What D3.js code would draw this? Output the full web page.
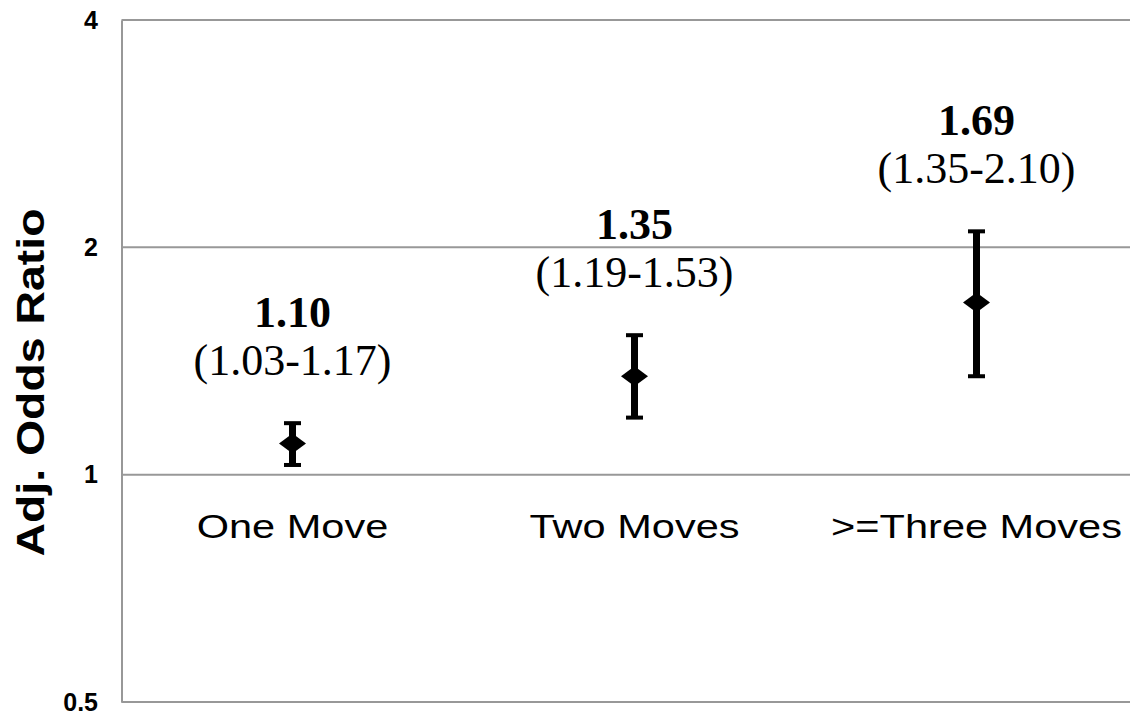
<!DOCTYPE html>
<html>
<head>
<meta charset="utf-8">
<script src="https://cdn.jsdelivr.net/npm/d3@7"></script>
<style>
  html, body { margin: 0; padding: 0; background: #fff; }
  svg { display: block; }
</style>
</head>
<body>
<svg id="chart" width="1130" height="712"></svg>
<script>
const categories = ["One Move", "Two Moves", ">=Three Moves"];
const oddsRatio = [1.10, 1.35, 1.69];
const ciLower = [1.03, 1.19, 1.35];
const ciUpper = [1.17, 1.53, 2.10];
const yTicks = [0.5, 1, 2, 4];
const yTitle = "Adj. Odds Ratio";

const W = 1130, H = 712;
const plotLeft = 121.5, plotTop = 20, plotBottom = 702;
const svg = d3.select("#chart");

const y = d3.scaleLog().base(2).domain([0.5, 4]).range([plotBottom, plotTop]);
const x = d3.scaleBand().domain(categories).range([plotLeft, plotLeft + 3 * 342]).padding(0);
const cx = c => x(c) + x.bandwidth() / 2;

const data = categories.map((c, i) => ({c, or: oddsRatio[i], lo: ciLower[i], hi: ciUpper[i]}));

// gridlines
svg.append("g").selectAll("line").data(yTicks).join("line")
  .attr("x1", plotLeft).attr("x2", W + 20)
  .attr("y1", d => y(d)).attr("y2", d => y(d))
  .attr("stroke", "#989898").attr("stroke-width", 2);

// y axis
const yAxis = svg.append("g").attr("transform", `translate(${plotLeft},0)`)
  .call(d3.axisLeft(y).tickValues(yTicks).tickSize(0).tickPadding(23.5)
    .tickFormat(d => String(d)));
yAxis.select(".domain").attr("stroke", "#989898").attr("stroke-width", 2);
yAxis.selectAll("text")
  .attr("font-family", "Liberation Sans, Arial, sans-serif")
  .attr("font-weight", "bold").attr("font-size", 25).attr("fill", "#000");

// y title
svg.append("text")
  .attr("transform", "translate(44,382.5) rotate(-90) scale(1.19,1)")
  .attr("text-anchor", "middle")
  .attr("font-family", "Liberation Sans, Arial, sans-serif")
  .attr("font-weight", "bold").attr("font-size", 39)
  .text(yTitle);

// category labels
svg.append("g").selectAll("text").data(categories).join("text")
  .attr("transform", d => `translate(${cx(d)},538) scale(1.24,1)`)
  .attr("text-anchor", "middle")
  .attr("font-family", "Liberation Sans, Arial, sans-serif")
  .attr("font-size", 33.5).attr("fill", "#000")
  .text(d => d);

// error bars
const eb = svg.append("g").selectAll("g").data(data).join("g");
eb.append("rect")
  .attr("x", d => cx(d.c) - 3.5).attr("width", 7)
  .attr("y", d => y(d.hi)).attr("height", d => y(d.lo) - y(d.hi))
  .attr("fill", "#000");
eb.append("rect")
  .attr("x", d => cx(d.c) - 8.5).attr("width", 17)
  .attr("y", d => y(d.hi) - 2).attr("height", 4).attr("fill", "#000");
eb.append("rect")
  .attr("x", d => cx(d.c) - 8.5).attr("width", 17)
  .attr("y", d => y(d.lo) - 2).attr("height", 4).attr("fill", "#000");
// diamonds
eb.append("path")
  .attr("d", d => {
    const px = cx(d.c), py = y(d.or);
    return `M${px},${py - 10}L${px + 13.5},${py}L${px},${py + 10}L${px - 13.5},${py}Z`;
  })
  .attr("fill", "#000");

// value labels
const lab = svg.append("g").selectAll("g").data(data).join("g")
  .attr("transform", d => `translate(${cx(d.c)},${y(d.hi) - 96})`);
lab.append("text")
  .attr("text-anchor", "middle")
  .attr("font-family", "Liberation Serif, Times New Roman, serif")
  .attr("font-weight", "bold").attr("font-size", 44)
  .text(d => d.or.toFixed(2));
lab.append("text")
  .attr("y", 48)
  .attr("text-anchor", "middle")
  .attr("font-family", "Liberation Serif, Times New Roman, serif")
  .attr("font-size", 44)
  .text(d => `(${d.lo.toFixed(2)}-${d.hi.toFixed(2)})`);
</script>
</body>
</html>
